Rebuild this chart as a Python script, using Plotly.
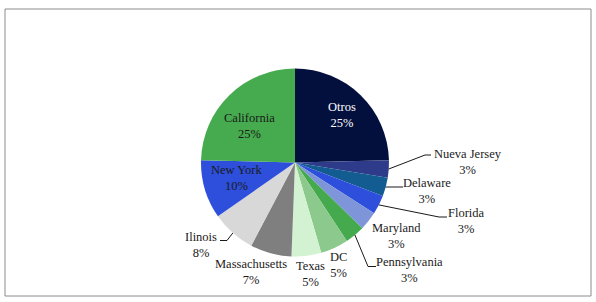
import math
import plotly.graph_objects as go

# ---- data ----
labels = ["Otros", "Nueva Jersey", "Delaware", "Florida", "Maryland", "Pennsylvania",
          "DC", "Texas", "Massachusetts", "Ilinois", "New York", "California"]
values = [24.6, 3.0, 3.2, 3.3, 3.2, 3.4, 4.8, 5.1, 7.1, 7.6, 10.1, 24.6]
colors = ["#030F3D", "#2E3A8A", "#135C91", "#2D4FDB", "#7F95DA", "#45AA4D",
          "#8BC98C", "#D2F2D2", "#7F7F7F", "#D8D8D8", "#2D4FDB", "#45AB4E"]

# ---- layout (pixel space) ----
W, H = 596, 302
CX, CY, R = 295, 162.5, 94
FONT = "Liberation Serif"
FS = 12.5

# label block centre (px) and optional leader line (elbow px, end px)
label_pos = {
    "Otros": (342, 115),
    "Nueva Jersey": (468, 162),
    "Delaware": (427, 191),
    "Florida": (466, 221),
    "Maryland": (396, 236),
    "Pennsylvania": (409, 270),
    "DC": (338, 265),
    "Texas": (310, 274),
    "Massachusetts": (251, 272),
    "Ilinois": (201, 245),
    "New York": (236, 178),
    "California": (249, 126),
}
leaders = {
    "Nueva Jersey": [(425, 155), (431, 155)],
    "Delaware": [(393, 187), (403, 187)],
    "Florida": [(439, 217), (447, 217)],
    "Pennsylvania": [(368, 266.5), (376, 266.5)],
    "Ilinois": [(227, 240.5), (220, 240.5)],
}
white_text = {"Otros"}

def px(x):
    return x / W

def py(y):
    return 1 - y / H

total = sum(values)
fig = go.Figure(go.Pie(
    labels=labels, values=values, sort=False, direction="clockwise", rotation=0,
    marker=dict(colors=colors, line=dict(width=0)),
    textinfo="none", hoverinfo="label+percent", showlegend=False,
    domain=dict(x=[px(CX - R), px(CX + R)], y=[py(CY + R), py(CY - R)]),
))

annotations = []
shapes = []
cum = 0.0
for lab, v in zip(labels, values):
    mid = (cum + v / 2) / total * 2 * math.pi
    cum += v
    ex = CX + R * math.sin(mid)
    ey = CY - R * math.cos(mid)
    lx, ly = label_pos[lab]
    pct = round(v / total * 100)
    annotations.append(dict(
        x=px(lx), y=py(ly), xref="paper", yref="paper",
        text=f"{lab}<br>{pct}%", showarrow=False, align="center",
        xanchor="center", yanchor="middle",
        font=dict(family=FONT, size=FS, color="white" if lab in white_text else "#1a1a1a"),
    ))
    if lab in leaders:
        pts = [(ex, ey)] + leaders[lab]
        path = "M " + " L ".join(f"{px(a)},{py(b)}" for a, b in pts)
        shapes.append(dict(type="path", path=path, xref="paper", yref="paper",
                           line=dict(color="#1a1a1a", width=1)))

shapes.append(dict(type="rect", xref="paper", yref="paper",
                   x0=px(5), x1=px(591), y0=py(296), y1=py(9),
                   line=dict(color="#8c8c8c", width=1)))

fig.update_layout(
    width=W, height=H, margin=dict(l=0, r=0, t=0, b=0),
    paper_bgcolor="white", plot_bgcolor="white",
    annotations=annotations, shapes=shapes,
)
fig.write_html("out.html", config={"displayModeBar": False},
               post_script="document.body.style.margin='0';")
